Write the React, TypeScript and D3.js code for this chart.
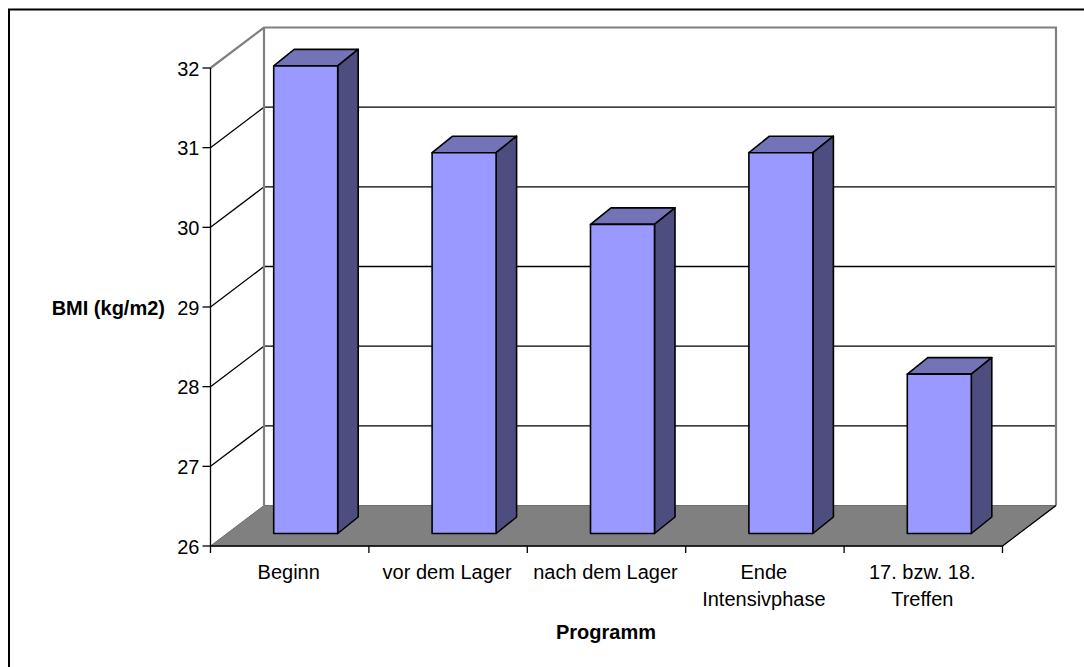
import React from "react";
import * as d3 from "d3";

const categories: string[][] = [
  ["Beginn"],
  ["vor dem Lager"],
  ["nach dem Lager"],
  ["Ende", "Intensivphase"],
  ["17. bzw. 18.", "Treffen"],
];
const bmiValues = [31.87, 30.78, 29.88, 30.78, 28.0];
const yTicks = [26, 27, 28, 29, 30, 31, 32];

const FONT = "'Liberation Sans', Arial, sans-serif";
const depth = { dx: 53.5, dy: -40.5 };
const barDepth = { dx: 20.5, dy: -16.5 };
const barInset = { dx: 16, dy: -12.5 };

const x = d3.scaleBand<number>().domain(d3.range(categories.length)).range([210.5, 1002.5]);
const y = d3.scaleLinear().domain([26, 32]).range([546, 68]);
const poly = (pts: [number, number][]) => pts.map((p) => p.join(",")).join(" ");

export default function App() {
  const x0 = x.range()[0];
  const x1 = x.range()[1];
  const yB = y(26);
  const yT = y(32);
  const barW = 64;
  return (
    <svg
      width={1084}
      height={667}
      style={{ position: "absolute", left: 0, top: 0, background: "#fff" }}
      fontFamily={FONT}
    >
      {/* chart frame: only the top and left edges fall inside the page */}
      <rect x={9} y={9.5} width={1200} height={800} fill="none" stroke="#000" strokeWidth={2} />

      {/* floor */}
      <polygon
        points={poly([
          [x0, yB],
          [x0 + depth.dx, yB + depth.dy],
          [x1 + depth.dx, yB + depth.dy],
          [x1, yB],
        ])}
        fill="#808080"
        stroke="#6e6e6e"
      />

      {/* gridlines on the side wall and back wall */}
      {yTicks.slice(1, -1).map((t) => (
        <polyline
          key={t}
          points={poly([
            [x0, y(t)],
            [x0 + depth.dx, y(t) + depth.dy],
            [x1 + depth.dx, y(t) + depth.dy],
          ])}
          fill="none"
          stroke="#000"
          strokeWidth={1.3}
        />
      ))}

      {/* wall outline */}
      <polyline
        points={poly([
          [x0, yT],
          [x0 + depth.dx, yT + depth.dy],
          [x1 + depth.dx, yT + depth.dy],
          [x1 + depth.dx, yB + depth.dy],
        ])}
        fill="none"
        stroke="#808080"
        strokeWidth={2.2}
      />
      <line x1={x0 + depth.dx} x2={x0 + depth.dx} y1={yT + depth.dy} y2={yB + depth.dy} stroke="#808080" strokeWidth={2.2} />
      <line x1={x1 + depth.dx} x2={x1} y1={yB + depth.dy} y2={yB} stroke="#000" strokeWidth={1.3} />

      {/* bars */}
      {bmiValues.map((v, i) => {
        const left = x(i)! + x.bandwidth() / 2 + barInset.dx - barW / 2;
        const right = left + barW;
        const top = y(v) + barInset.dy;
        const bottom = yB + barInset.dy;
        return (
          <g key={i} stroke="#000" strokeWidth={1.6} strokeLinejoin="round">
            <polygon
              points={poly([
                [left, top],
                [left + barDepth.dx, top + barDepth.dy],
                [right + barDepth.dx, top + barDepth.dy],
                [right, top],
              ])}
              fill="#7373b8"
            />
            <polygon
              points={poly([
                [right, top],
                [right + barDepth.dx, top + barDepth.dy],
                [right + barDepth.dx, bottom + barDepth.dy],
                [right, bottom],
              ])}
              fill="#4d4d80"
            />
            <rect x={left} y={top} width={barW} height={bottom - top} fill="#9999ff" />
          </g>
        );
      })}

      {/* axes */}
      <line x1={x0} x2={x0} y1={yT} y2={yB} stroke="#000" strokeWidth={1.3} />
      <line x1={x0} x2={x1} y1={yB} y2={yB} stroke="#000" strokeWidth={1.6} />
      {yTicks.map((t) => (
        <g key={t}>
          <line x1={x0 - 8} x2={x0} y1={y(t)} y2={y(t)} stroke="#000" strokeWidth={1.3} />
          <text x={199.5} y={y(t) + 7.5} textAnchor="end" fontSize={20} fill="#000">
            {t}
          </text>
        </g>
      ))}
      {d3.range(categories.length + 1).map((i) => {
        const px = x0 + i * x.bandwidth();
        return <line key={i} x1={px} x2={px} y1={yB} y2={yB + 7} stroke="#000" strokeWidth={1.3} />;
      })}
      {categories.map((lines, i) =>
        lines.map((line, j) => (
          <text
            key={line}
            x={x(i)! + x.bandwidth() / 2 - 1}
            y={579 + j * 27}
            textAnchor="middle"
            fontSize={20}
            fill="#000"
          >
            {line}
          </text>
        )),
      )}

      {/* axis titles */}
      <text x={165} y={315} textAnchor="end" fontSize={20} fontWeight="bold" fill="#000">
        BMI (kg/m2)
      </text>
      <text x={606} y={639} textAnchor="middle" fontSize={20} fontWeight="bold" fill="#000">
        Programm
      </text>
    </svg>
  );
}
